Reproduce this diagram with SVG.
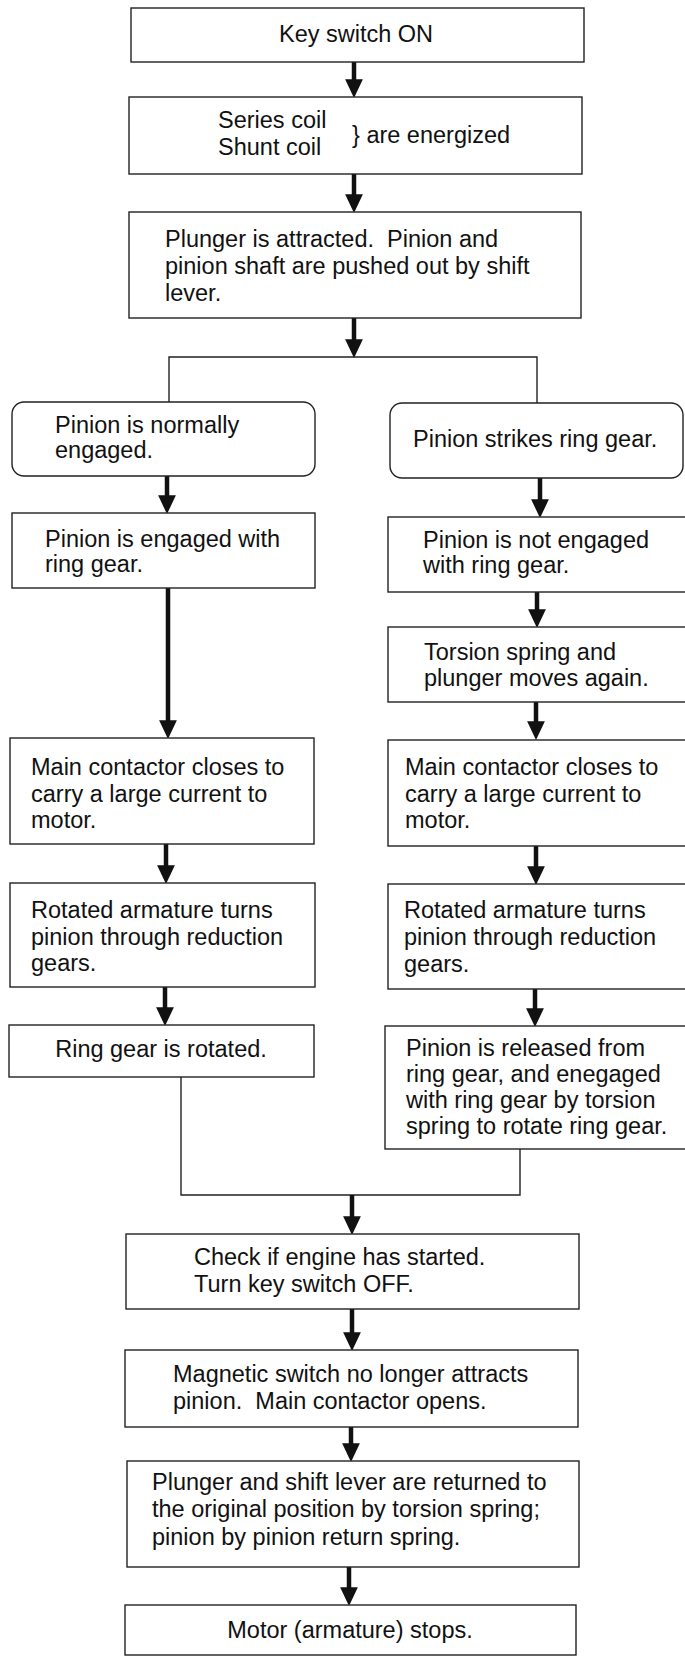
<svg xmlns="http://www.w3.org/2000/svg" width="685" height="1656" viewBox="0 0 685 1656">
<style>
.b{fill:#fff;stroke:#222;stroke-width:1.4}
.t{font-family:"Liberation Sans",Arial,sans-serif;font-size:23.5px;fill:#111}
.m{text-anchor:middle}
.a{stroke:#111;stroke-width:4.5;fill:none;marker-end:url(#ah)}
.l{stroke:#222;stroke-width:1.4;fill:none}
</style>
<defs>
<marker id="ah" markerUnits="userSpaceOnUse" markerWidth="20" markerHeight="20" viewBox="0 -9 18 18" refX="7" refY="0" orient="auto">
<path d="M0,-8 L17,0 L0,8 z" fill="#111"/>
</marker>
</defs>
<rect width="685" height="1656" fill="#fff"/>
<g id="connectors">
<line class="a" x1="354" y1="62" x2="354" y2="87"/>
<line class="a" x1="354" y1="174" x2="354" y2="202"/>
<line class="a" x1="354" y1="318" x2="354" y2="347"/>
<path class="l" d="M169,402 V357 H537 V403"/>
<line class="a" x1="167" y1="476" x2="167" y2="503"/>
<line class="a" x1="540" y1="478" x2="540" y2="507"/>
<line class="a" x1="168" y1="588" x2="168" y2="728"/>
<line class="a" x1="537" y1="592" x2="537" y2="617"/>
<line class="a" x1="536" y1="702" x2="536" y2="729"/>
<line class="a" x1="166" y1="844" x2="166" y2="873"/>
<line class="a" x1="536" y1="846" x2="536" y2="874"/>
<line class="a" x1="165" y1="987" x2="165" y2="1015"/>
<line class="a" x1="535" y1="989" x2="535" y2="1016"/>
<path class="l" d="M181,1077 V1195 H520 V1149"/>
<line class="a" x1="352" y1="1195" x2="352" y2="1224"/>
<line class="a" x1="352" y1="1309" x2="352" y2="1340"/>
<line class="a" x1="351" y1="1427" x2="351" y2="1451"/>
<line class="a" x1="349" y1="1567" x2="349" y2="1595"/>
</g>
<g id="n1"><rect class="b" x="131" y="8" width="453" height="54"/><text class="t m" x="356" y="42">Key switch ON</text></g>
<g id="n2"><rect class="b" x="129" y="97" width="453" height="77"/><text class="t" x="218" y="128">Series coil</text><text class="t" x="218" y="155">Shunt coil</text><text class="t" x="352" y="143">} are energized</text></g>
<g id="n3"><rect class="b" x="129" y="212" width="452" height="106"/><text class="t" x="165" y="247" xml:space="preserve">Plunger is attracted.  Pinion and</text><text class="t" x="165" y="274">pinion shaft are pushed out by shift</text><text class="t" x="165" y="301">lever.</text></g>
<g id="n4"><rect class="b" x="12" y="402" width="303" height="74" rx="12"/><text class="t" x="55" y="433">Pinion is normally</text><text class="t" x="55" y="458">engaged.</text></g>
<g id="n5"><rect class="b" x="390" y="403" width="293" height="75" rx="12"/><text class="t" x="413" y="447">Pinion strikes ring gear.</text></g>
<g id="n6"><rect class="b" x="12" y="513" width="303" height="75"/><text class="t" x="45" y="547">Pinion is engaged with</text><text class="t" x="45" y="572">ring gear.</text></g>
<g id="n7"><rect class="b" x="388" y="517" width="310" height="75"/><text class="t" x="423" y="548">Pinion is not engaged</text><text class="t" x="423" y="573">with ring gear.</text></g>
<g id="n8"><rect class="b" x="388" y="627" width="310" height="75"/><text class="t" x="424" y="660">Torsion spring and</text><text class="t" x="424" y="686">plunger moves again.</text></g>
<g id="n9"><rect class="b" x="10" y="738" width="304" height="106"/><text class="t" x="31" y="775">Main contactor closes to</text><text class="t" x="31" y="802">carry a large current to</text><text class="t" x="31" y="828">motor.</text></g>
<g id="n10"><rect class="b" x="388" y="740" width="310" height="106"/><text class="t" x="405" y="775">Main contactor closes to</text><text class="t" x="405" y="802">carry a large current to</text><text class="t" x="405" y="828">motor.</text></g>
<g id="n11"><rect class="b" x="10" y="883" width="305" height="104"/><text class="t" x="31" y="918">Rotated armature turns</text><text class="t" x="31" y="945">pinion through reduction</text><text class="t" x="31" y="971">gears.</text></g>
<g id="n12"><rect class="b" x="388" y="884" width="310" height="105"/><text class="t" x="404" y="918">Rotated armature turns</text><text class="t" x="404" y="945">pinion through reduction</text><text class="t" x="404" y="972">gears.</text></g>
<g id="n13"><rect class="b" x="9" y="1025" width="305" height="52"/><text class="t m" x="161" y="1057">Ring gear is rotated.</text></g>
<g id="n14"><rect class="b" x="385" y="1026" width="313" height="123"/><text class="t" x="406" y="1056">Pinion is released from</text><text class="t" x="406" y="1082">ring gear, and enegaged</text><text class="t" x="406" y="1108">with ring gear by torsion</text><text class="t" x="406" y="1134">spring to rotate ring gear.</text></g>
<g id="n15"><rect class="b" x="126" y="1234" width="453" height="75"/><text class="t" x="194" y="1265">Check if engine has started.</text><text class="t" x="194" y="1292">Turn key switch OFF.</text></g>
<g id="n16"><rect class="b" x="125" y="1350" width="453" height="77"/><text class="t" x="173" y="1382">Magnetic switch no longer attracts</text><text class="t" x="173" y="1409" xml:space="preserve">pinion.  Main contactor opens.</text></g>
<g id="n17"><rect class="b" x="127" y="1461" width="452" height="106"/><text class="t" x="152" y="1490">Plunger and shift lever are returned to</text><text class="t" x="152" y="1517">the original position by torsion spring;</text><text class="t" x="152" y="1545">pinion by pinion return spring.</text></g>
<g id="n18"><rect class="b" x="125" y="1605" width="451" height="50"/><text class="t m" x="350" y="1638">Motor (armature) stops.</text></g>
</svg>
